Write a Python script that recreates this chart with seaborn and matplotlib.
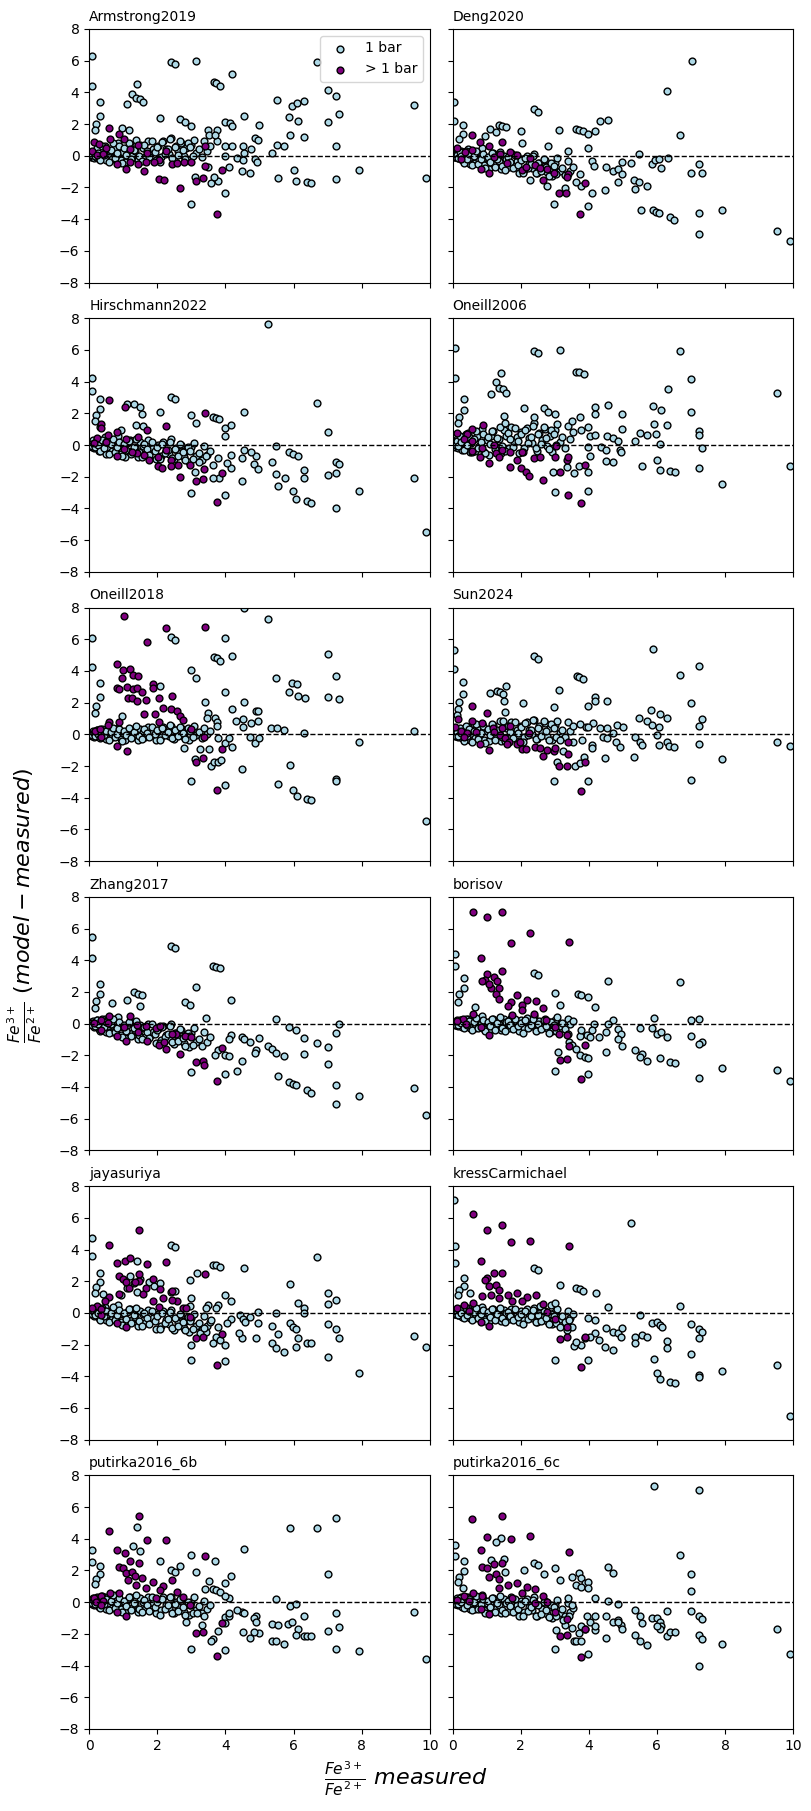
"""
Residual plots of Fe3+/Fe2+ (model - measured) vs measured, one panel per model.
"""

import pandas as pd
import matplotlib.pyplot as plt
import seaborn as sns

# x of the dense 1-bar cluster near the origin (same measured set in every panel)
X_CLUSTER = [0.02, 0.04, 0.06, 0.08, 0.10, 0.12, 0.15, 0.18, 0.20, 0.24, 0.28, 0.30, 0.35, 0.40, 0.45,
             0.50, 0.55, 0.60, 0.66, 0.72, 0.78, 0.85, 0.92, 1.00, 1.06, 1.12, 1.20, 1.27, 1.35, 1.42,
             1.50, 1.58, 1.65, 1.72, 1.80, 1.88, 1.95, 2.02, 2.10, 2.18, 2.25, 2.33, 2.40, 2.48, 2.55,
             2.62, 2.70, 2.78, 2.85, 2.92, 3.00, 3.08, 3.15, 3.22, 3.30, 3.38, 3.45, 3.55]
X_CLUSTER2 = [0.03, 0.07, 0.09, 0.13, 0.16, 0.22, 0.26, 0.33, 0.38, 0.43, 0.48, 0.58, 0.63, 0.69, 0.75,
              0.82, 0.88, 0.96, 1.03, 1.09, 1.16, 1.24, 1.31, 1.38, 1.46, 1.54, 1.62, 1.69, 1.77, 1.84,
              1.92, 2.00, 2.07, 2.14, 2.22, 2.30, 2.37, 2.44, 2.52, 2.60, 2.67, 2.75, 2.82, 2.90, 2.97, 3.05]

# ---------------- Armstrong2019 ----------------
ARMSTRONG_CLUSTER_Y = [0.05, -0.05, 0.15, -0.1, 0.0, 0.25, -0.15, 0.2, -0.05, 0.4, -0.2, 0.15, 0.35, -0.15, 0.6,
                       -0.3, 0.1, 0.3, -0.2, 0.5, 0.0, 0.8, -0.3, 0.25, -0.4, 0.5, 0.7, 0.0, 0.3, -0.3,
                       0.7, 0.5, -0.1, 0.9, 0.2, 0.4, -0.3, 0.6, -0.1, 0.9, 0.4, 0.1, 1.1, -0.2, 0.6,
                       0.3, 0.8, 0.0, 0.5, -0.3, 0.7, 1.0, 0.2, 0.4, -0.1, 0.9, 0.3, 0.6]
ARMSTRONG_CLUSTER2_Y = [0.07, 0.17, 0.02, 0.24, -0.03, 0.49, 0.19, -0.28, 0.63, 0.03, 0.46, -0.37, 0.36, 0.78, -0.17,
                        0.2, 0.63, -0.44, 0.46, 0.05, 0.78, -0.23, 0.38, 0.99, -0.02, -0.32, 0.65, 0.3, -0.11, 0.92,
                        0.21, 0.58, -0.37, 0.84, 0.13, 0.44, 1.04, -0.15, 0.58, 0.05, 0.96, 0.37, -0.22, 0.81, 0.58,
                        -0.01]
ARMSTRONG_1BAR = [(0.07, 6.29), (0.07, 4.37), (2.39, 5.91), (2.52, 5.76), (3.14, 5.95), (3.67, 4.64), (3.72, 4.56),
                  (3.85, 4.43), (4.2, 5.15), (1.41, 4.51), (1.27, 3.92), (1.36, 3.65), (1.48, 3.57), (1.59, 3.38),
                  (1.12, 3.25), (0.32, 3.38), (0.32, 2.53), (0.2, 2.03), (0.17, 1.6), (2.07, 2.36), (2.66, 2.3),
                  (2.82, 2.13), (2.99, 1.9), (0.96, 1.75), (1.17, 1.6), (3.49, 1.65), (3.76, 1.65), (3.52, 1.29),
                  (3.76, 0.93), (3.69, 1.29), (3.98, 2.13), (4.12, 2.09), (4.18, 1.9), (4.54, 2.53), (5.0, 1.96),
                  (5.5, 3.54), (5.87, 2.43), (5.96, 3.14), (6.09, 3.33), (6.31, 3.48), (6.13, 2.17), (5.9, 1.33),
                  (6.31, 1.2), (6.68, 5.89), (7.0, 4.13), (7.25, 3.8), (7.33, 2.66), (7.0, 2.1), (7.25, 0.59),
                  (4.86, 1.14), (4.96, 0.97), (4.52, 0.63), (4.75, 0.42), (4.54, 0.17), (4.0, 0.63), (4.19, 0.63),
                  (5.37, 0.17), (5.5, 0.7), (5.72, 0.63), (4.33, -0.17), (4.52, -0.3), (4.86, -0.19), (4.94, -0.4),
                  (3.98, -0.04), (4.1, -0.72), (4.49, -0.99), (4.73, -1.08), (5.54, -1.39), (6.0, -0.93),
                  (6.07, -1.58), (6.39, -1.65), (6.52, -1.71), (7.25, -1.46), (7.93, -0.87), (9.54, 3.23),
                  (9.9, -1.39), (3.98, -2.38), (2.99, -3.04), (3.57, -1.71), (3.79, -1.58), (3.66, -1.35),
                  (3.1, -1.35), (3.5, -0.72)]
ARMSTRONG_HP = [(3.76, -3.65), (2.67, -2.03), (2.05, -1.46), (2.19, -1.52), (3.13, -1.58), (3.35, -1.39),
                (3.9, -0.89), (3.39, -0.63), (3.41, 0.63), (2.26, 0.27), (2.04, -0.3), (2.42, -0.55), (2.58, -0.46),
                (2.78, -0.42), (2.99, -0.38), (1.71, 0.17), (1.67, -0.38), (1.44, -0.55), (1.6, -0.99), (1.09, -0.84),
                (0.82, -0.55), (0.58, 1.77), (0.88, 1.39), (1.03, 1.08), (1.19, 0.42), (1.44, 0.7), (0.61, 1.05),
                (0.15, 0.84), (0.29, 0.76), (0.49, 0.46), (0.08, 0.3), (0.22, 0.02), (0.41, 0.13), (1.9, -0.42),
                (1.19, -0.42)]

# ---------------- Deng2020 ----------------
DENG_CLUSTER_Y = [0.05, -0.05, 0.1, -0.1, 0.0, 0.2, -0.15, 0.1, -0.1, 0.3, -0.3, 0.05, 0.2, -0.3, 0.4,
                  -0.5, -0.1, 0.05, -0.45, 0.25, -0.3, 0.5, -0.6, -0.15, -0.85, 0.0, 0.2, -0.5, -0.35, -0.85,
                  0.0, -0.2, -0.7, 0.15, -0.55, -0.35, -1.1, -0.2, -0.9, 0.0, -0.55, -0.8, 0.1, -1.1, -0.45,
                  -0.75, -0.25, -1.0, -0.6, -1.3, -0.45, -0.15, -0.95, -0.8, -1.2, -0.35, -0.95, -0.7]
DENG_CLUSTER2_Y = [-0.04, 0.03, -0.1, 0.07, -0.17, 0.24, -0.02, -0.43, 0.3, -0.21, 0.13, -0.6, -0.01, 0.33, -0.49,
                   -0.21, 0.13, -0.79, -0.06, -0.42, 0.16, -0.71, -0.23, 0.25, -0.62, -0.89, -0.11, -0.42, -0.79, 0.04,
                   -0.58, -0.3, -1.12, -0.14, -0.76, -0.53, -0.04, -1.06, -0.48, -0.95, -0.22, -0.74, -1.26, -0.43,
                   -0.64, -1.16]
DENG_1BAR = [(0.05, 3.38), (0.05, 2.17), (0.31, 1.96), (0.31, 1.39), (0.2, 1.05), (2.4, 2.97), (2.51, 2.78),
             (1.37, 1.96), (1.45, 1.9), (1.58, 1.84), (1.1, 1.71), (1.27, 1.48), (2.0, 1.54), (0.96, 1.22),
             (2.04, 0.82), (3.12, 1.65), (3.62, 1.67), (3.7, 1.65), (3.82, 1.54), (3.98, 1.39), (4.19, 1.54),
             (4.33, 2.17), (4.55, 2.24), (3.98, 0.46), (3.4, 0.27), (2.81, 0.63), (2.97, -3.02), (3.98, -3.14),
             (4.1, -2.34), (4.48, -2.19), (3.76, -1.9), (3.62, -1.65), (2.78, -1.88), (3.29, -2.03), (3.74, -1.14),
             (4.1, -0.34), (4.15, -0.65), (4.5, -0.72), (4.72, -0.99), (4.86, -0.86), (4.96, -1.14), (4.86, -1.65),
             (4.98, -0.38), (5.23, -0.44), (5.34, -1.52), (5.36, -2.07), (5.48, 0.13), (5.48, -1.65), (5.54, -3.42),
             (5.71, -1.88), (5.85, -0.51), (5.94, -0.25), (6.07, -0.21), (6.12, -0.76), (5.87, -3.42), (5.97, -3.57),
             (6.06, -3.63), (6.3, 4.07), (6.32, -0.13), (6.38, -3.88), (6.51, -4.05), (6.67, 1.33), (7.02, 5.95),
             (7.0, -1.08), (7.24, -0.51), (7.33, -1.08), (7.24, -3.61), (7.24, -4.94), (7.9, -3.42), (9.53, -4.75),
             (9.9, -5.38), (2.27, -1.56)]
DENG_HP = [(0.58, 1.29), (0.12, 0.46), (0.8, 0.86), (1.08, 0.59), (1.44, 0.86), (0.83, -0.82), (1.08, -1.08),
           (1.68, 0.23), (1.88, 0.04), (1.21, -0.08), (1.6, -0.46), (2.03, -0.89), (2.17, -0.72), (2.42, -0.57),
           (2.56, -0.76), (2.76, -0.86), (2.97, -1.08), (2.66, -1.52), (3.39, -1.14), (3.37, -1.35), (3.13, -2.38),
           (3.34, -2.34), (3.75, -3.65), (3.89, -1.75), (0.36, 0.23), (0.56, 0.34), (0.26, -0.19), (2.27, -0.15),
           (1.39, 0.13)]

# ---------------- Hirschmann2022 ----------------
HIRSCHMANN_CLUSTER_Y = [0.05, -0.05, 0.2, -0.1, 0.0, 0.3, -0.2, 0.15, -0.1, 0.4, -0.35, 0.05, 0.25, -0.25, 0.5,
                        -0.55, -0.1, 0.1, -0.4, 0.3, -0.2, 0.6, -0.55, -0.05, -0.75, 0.15, 0.3, -0.4, -0.2, -0.75,
                        0.2, -0.05, -0.55, 0.3, -0.35, -0.2, -0.9, 0.0, -0.7, 0.2, -0.35, -0.55, 0.35, -0.9, -0.2,
                        -0.5, 0.0, -0.75, -0.35, -1.05, -0.15, 0.1, -0.7, -0.5, -0.95, -0.05, -0.6, -0.35]
HIRSCHMANN_CLUSTER2_Y = [-0.03, 0.04, -0.09, 0.08, -0.15, 0.27, 0.01, -0.4, 0.34, -0.16, 0.18, -0.54, 0.06, 0.4,
                         -0.41, -0.12, 0.22, -0.69, 0.05, -0.31, 0.28, -0.59, -0.1, 0.39, -0.47, -0.73, 0.06, -0.25,
                         -0.62, 0.22, -0.39, -0.1, -0.91, 0.08, -0.53, -0.3, 0.19, -0.82, -0.23, -0.69, 0.05, -0.46,
                         -0.97, -0.14, -0.35, -0.86]
HIRSCHMANN_1BAR = [(5.25, 7.64), (0.07, 4.22), (0.07, 3.38), (0.32, 2.89), (0.32, 2.26), (0.2, 1.88), (0.17, 1.52),
                   (0.32, 1.16), (1.12, 2.57), (1.32, 2.59), (1.48, 2.43), (1.56, 1.94), (1.37, 1.27), (1.59, 1.2),
                   (0.94, 0.95), (2.4, 3.02), (2.52, 2.89), (2.09, 2.07), (2.99, 1.88), (3.14, 1.37), (3.63, 1.79),
                   (3.73, 1.69), (3.81, 1.65), (3.98, 1.05), (3.98, 0.59), (4.17, 1.24), (4.54, 2.07), (6.69, 2.64),
                   (7.0, 0.8), (5.49, -0.06), (5.88, -0.42), (5.98, -0.57), (6.12, -0.68), (5.36, -1.05), (5.49, -1.84),
                   (5.75, -2.05), (6.3, -1.6), (6.3, -2.05), (7.0, -1.9), (7.24, -1.05), (7.33, -1.2), (7.24, -1.79),
                   (7.24, -3.95), (5.55, -2.59), (5.98, -2.91), (6.06, -3.38), (6.39, -3.54), (6.51, -3.63),
                   (7.91, -2.87), (9.53, -2.09), (9.89, -5.5), (2.99, -3.0), (3.98, -3.16), (4.48, -2.24),
                   (4.17, -1.48), (4.48, -0.84), (4.84, -1.2), (4.95, -1.54), (4.91, -0.68), (4.55, -0.32),
                   (4.17, -0.63), (3.77, -0.84), (3.81, -2.11), (3.63, -2.07), (3.1, -1.69), (3.43, -0.7),
                   (3.23, -1.05), (3.63, -1.27), (4.04, -1.12), (4.75, -0.42)]
HIRSCHMANN_HP = [(0.59, 2.85), (1.04, 2.38), (0.34, 1.33), (0.36, 1.08), (2.26, 1.2), (3.41, 2.0), (1.7, 0.95),
                 (1.44, 0.49), (1.09, 0.36), (0.83, 0.8), (0.56, 0.61), (0.24, 0.44), (0.13, 0.1), (0.48, 0.17),
                 (0.82, -0.7), (1.01, -0.27), (1.4, -0.53), (1.62, -0.65), (2.02, -0.74), (2.41, -0.95),
                 (2.03, -1.33), (2.15, -1.48), (2.41, -1.33), (2.6, -1.29), (2.96, -1.29), (2.66, -2.0), (3.14, -2.26),
                 (3.34, -2.17), (3.9, -1.79), (3.74, -3.6), (3.36, -1.54), (1.75, -0.95), (1.25, -0.42), (2.26, -0.32)]

# ---------------- Oneill2006 ----------------
ONEILL2006_CLUSTER_Y = [0.05, -0.05, 0.2, -0.1, 0.05, 0.35, -0.2, 0.25, -0.05, 0.5, -0.3, 0.15, 0.45, -0.2, 0.75,
                        -0.45, 0.1, 0.35, -0.35, 0.6, -0.05, 1.0, -0.45, 0.3, -0.6, 0.6, 0.9, -0.1, 0.35, -0.5,
                        0.95, 0.6, -0.2, 1.15, 0.2, 0.5, -0.5, 0.8, -0.2, 1.1, 0.45, 0.1, 1.4, -0.35, 0.75,
                        0.3, 1.0, -0.05, 0.6, -0.45, 0.95, 1.3, 0.2, 0.5, -0.2, 1.2, 0.35, 0.8]
ONEILL2006_CLUSTER2_Y = [0.06, 0.18, 0.01, 0.26, -0.06, 0.55, 0.21, -0.34, 0.72, 0.02, 0.52, -0.44, 0.4, 0.9, -0.21,
                         0.22, 0.72, -0.53, 0.53, 0.05, 0.9, -0.27, 0.44, 1.15, -0.03, -0.37, 0.76, 0.35, -0.12, 1.08,
                         0.25, 0.68, -0.43, 0.98, 0.15, 0.52, 1.23, -0.16, 0.69, 0.07, 1.13, 0.44, -0.25, 0.96, 0.69,
                         0.0]
ONEILL2006_1BAR = [(0.07, 6.12), (0.07, 4.26), (0.34, 2.89), (0.34, 2.22), (0.2, 1.75), (0.17, 1.37), (2.4, 5.93),
                   (2.52, 5.8), (3.14, 5.99), (3.63, 4.64), (3.71, 4.58), (3.85, 4.47), (6.68, 5.93), (7.0, 4.16),
                   (6.33, 3.52), (9.53, 3.27), (9.91, -1.35), (1.41, 4.54), (1.28, 3.97), (1.37, 3.59), (1.48, 3.52),
                   (1.57, 3.27), (1.12, 3.23), (2.09, 2.32), (2.69, 2.32), (2.8, 2.11), (3.0, 1.96), (2.4, 1.75),
                   (1.51, 1.84), (1.55, 1.41), (4.17, 2.38), (4.19, 1.96), (4.55, 2.53), (4.98, 1.96), (4.98, 1.01),
                   (5.88, 2.47), (6.12, 2.22), (6.3, 1.27), (7.0, 2.11), (7.24, 0.91), (7.24, 0.61), (7.31, -0.17),
                   (3.5, 1.52), (3.74, 1.75), (3.77, 0.95), (3.97, 1.12), (4.04, 0.59), (4.17, 0.61), (4.52, 0.57),
                   (4.71, 0.46), (4.87, 0.25), (5.36, 0.25), (5.9, 1.31), (5.72, 0.63), (5.96, 0.68), (6.08, 0.04),
                   (5.49, 0.74), (4.35, -0.15), (4.51, -0.32), (4.91, -0.32), (4.95, -0.42), (3.97, -0.11),
                   (4.04, -0.68), (4.49, -0.99), (4.71, -1.05), (5.55, -1.33), (5.99, -0.95), (6.08, -1.58),
                   (6.39, -1.62), (6.52, -1.73), (7.24, -1.48), (7.91, -2.49), (3.0, -2.97), (3.97, -2.87),
                   (3.57, -1.75), (3.7, -1.31), (3.97, -1.73), (3.36, -1.37), (2.96, -1.69)]
ONEILL2006_HP = [(0.58, 1.03), (0.89, 1.24), (0.43, 0.68), (0.13, 0.74), (0.34, 0.4), (0.58, 0.27), (1.21, 0.0),
                 (0.87, -0.17), (0.58, -0.38), (0.81, -0.78), (1.08, -1.12), (1.28, -0.53), (1.45, -0.32),
                 (1.68, -0.42), (1.37, -0.74), (1.68, -1.37), (2.05, -0.42), (1.88, -0.95), (2.4, -0.8), (2.56, -0.74),
                 (3.0, -0.74), (2.02, -1.48), (2.17, -1.71), (2.25, -1.96), (2.66, -2.22), (3.14, -1.69),
                 (3.36, -0.95), (3.9, -1.27), (3.4, -3.16), (3.77, -3.63), (3.4, -0.74), (3.03, -0.04)]

# ---------------- Oneill2018 ----------------
ONEILL2018_CLUSTER_Y = [0.05, -0.05, 0.1, -0.1, 0.0, 0.2, -0.15, 0.1, -0.05, 0.25, -0.2, 0.05, 0.2, -0.15, 0.3,
                        -0.3, 0.0, 0.15, -0.2, 0.3, -0.1, 0.4, -0.3, 0.1, -0.35, 0.2, 0.35, -0.15, 0.05, -0.35,
                        0.35, 0.15, -0.2, 0.45, 0.0, 0.15, -0.35, 0.3, -0.2, 0.45, 0.1, -0.1, 0.55, -0.3, 0.25,
                        0.0, 0.4, -0.2, 0.2, -0.35, 0.3, 0.5, -0.05, 0.15, -0.25, 0.4, 0.05, 0.2]
ONEILL2018_CLUSTER2_Y = [-0.02, 0.04, -0.06, 0.09, -0.09, 0.25, 0.05, -0.26, 0.34, -0.06, 0.22, -0.33, 0.15, 0.43,
                         -0.2, 0.04, 0.32, -0.39, 0.21, -0.07, 0.42, -0.26, 0.15, 0.55, -0.13, -0.32, 0.32, 0.08,
                         -0.19, 0.49, 0.02, 0.26, -0.38, 0.43, -0.05, 0.16, 0.56, -0.24, 0.25, -0.11, 0.49, 0.1,
                         -0.3, 0.39, 0.23, -0.17]
ONEILL2018_1BAR = [(0.07, 6.1), (0.07, 4.28), (0.31, 3.21), (0.32, 2.33), (0.21, 1.78), (0.18, 1.32), (4.55, 7.95),
                   (5.25, 7.25), (2.4, 6.14), (2.53, 5.97), (3.98, 6.1), (4.2, 4.93), (3.67, 4.86), (3.74, 4.82),
                   (3.85, 4.65), (7.0, 5.05), (7.25, 3.65), (7.0, 2.33), (7.33, 2.2), (5.49, 3.58), (5.96, 3.27),
                   (6.09, 3.17), (5.87, 2.64), (6.14, 2.39), (6.33, 2.29), (3.0, 4.05), (3.13, 3.58), (2.08, 3.08),
                   (3.98, 2.64), (3.41, 2.01), (4.18, 1.57), (4.55, 2.01), (3.49, 1.32), (3.47, 1.0), (3.69, 1.05),
                   (3.76, 0.75), (3.76, 0.52), (4.89, 1.47), (4.96, 1.47), (4.96, 0.84), (4.52, 0.96), (4.32, 0.84),
                   (4.75, 0.69), (4.52, 0.44), (0.95, 1.15), (5.33, 0.42), (5.5, 0.4), (5.72, 0.27), (6.31, 0.1),
                   (9.54, 0.21), (9.9, -5.45), (7.93, -0.5), (4.18, -0.82), (4.0, -0.52), (3.79, -0.25), (4.1, -0.25),
                   (4.73, -0.15), (4.88, -0.57), (4.99, -0.25), (3.52, -0.94), (3.25, -0.94), (2.79, -0.88),
                   (3.1, -1.57), (3.57, -2.01), (3.67, -1.72), (3.79, -1.72), (3.88, -1.61), (4.49, -2.18),
                   (5.89, -1.93), (3.0, -2.94), (3.98, -3.19), (5.55, -3.12), (5.99, -3.5), (6.09, -3.9),
                   (6.39, -4.07), (6.52, -4.13), (7.25, -2.81), (7.25, -2.94)]
ONEILL2018_HP = [(1.03, 7.44), (2.26, 6.69), (3.4, 6.79), (1.7, 5.85), (0.82, 4.42), (1.0, 4.09), (1.21, 4.15),
                 (1.29, 3.73), (1.44, 3.65), (0.97, 3.58), (0.83, 2.9), (0.88, 2.85), (1.1, 2.96), (1.29, 2.85),
                 (1.39, 2.93), (1.56, 2.7), (1.87, 3.17), (1.87, 2.9), (1.14, 2.29), (1.26, 2.3), (1.39, 2.12),
                 (1.67, 2.16), (2.05, 2.29), (2.43, 2.43), (1.62, 1.26), (1.94, 1.26), (2.17, 1.64), (2.39, 1.6),
                 (2.58, 1.47), (2.66, 1.17), (2.76, 0.9), (3.0, 0.31), (2.05, 0.78), (0.88, 0.78), (0.59, 0.78),
                 (0.54, 0.57), (0.17, 0.23), (0.31, 0.31), (0.36, -0.15), (0.82, -0.73), (1.1, -1.03), (3.37, -0.15),
                 (3.9, -0.94), (3.14, -1.76), (3.35, -1.51), (3.75, -3.52)]

# ---------------- Sun2024 ----------------
SUN_CLUSTER_Y = [0.05, -0.05, 0.15, -0.1, 0.0, 0.25, -0.15, 0.2, -0.05, 0.35, -0.25, 0.1, 0.3, -0.15, 0.45,
                 -0.35, 0.05, 0.25, -0.25, 0.4, -0.05, 0.65, -0.35, 0.2, -0.45, 0.4, 0.6, -0.1, 0.2, -0.4,
                 0.6, 0.4, -0.15, 0.75, 0.1, 0.3, -0.4, 0.5, -0.2, 0.75, 0.25, 0.0, 0.9, -0.3, 0.5,
                 0.15, 0.7, -0.1, 0.4, -0.35, 0.6, 0.85, 0.1, 0.3, -0.2, 0.75, 0.2, 0.5]
SUN_CLUSTER2_Y = [-0.03, 0.07, -0.08, 0.13, -0.13, 0.38, 0.09, -0.39, 0.52, -0.08, 0.35, -0.48, 0.24, 0.67, -0.28,
                  0.08, 0.51, -0.56, 0.34, -0.07, 0.66, -0.36, 0.25, 0.86, -0.15, -0.45, 0.52, 0.17, -0.24, 0.78,
                  0.07, 0.44, -0.51, 0.69, -0.02, 0.29, 0.9, -0.3, 0.43, -0.1, 0.81, 0.22, -0.38, 0.65, 0.42,
                  -0.17]
SUN_1BAR = [(0.05, 5.35), (0.05, 4.11), (0.31, 3.29), (0.31, 2.54), (0.2, 2.01), (0.17, 1.57), (0.12, 1.22),
            (2.4, 4.93), (2.51, 4.78), (5.89, 5.41), (7.23, 4.3), (6.67, 3.73), (7.0, 1.97), (7.33, 0.96), (7.24, 0.52),
            (7.24, -0.63), (7.0, -2.87), (3.64, 3.67), (3.72, 3.63), (3.84, 3.52), (3.12, 2.79), (4.17, 2.33),
            (4.18, 2.12), (4.54, 2.1), (3.98, 1.78), (2.97, 1.7), (2.07, 1.97), (1.1, 2.58), (1.29, 2.73),
            (1.39, 2.68), (1.49, 2.54), (1.58, 3.02), (1.5, 2.1), (1.53, 1.38), (1.49, 0.84), (5.82, 1.53),
            (6.1, 1.26), (6.3, 1.01), (5.48, 1.01), (5.71, 0.84), (5.85, 0.59), (6.07, 0.44), (5.99, -0.04),
            (3.74, 0.63), (3.93, 0.48), (4.13, 0.73), (4.32, 0.38), (4.52, 0.42), (4.72, 0.06), (4.84, 0.59),
            (4.99, 0.48), (4.42, -0.15), (4.52, -0.21), (5.35, -0.19), (5.5, -0.46), (5.55, -0.69), (6.31, -0.46),
            (6.36, -0.73), (6.5, -0.8), (6.06, -0.67), (4.81, -0.46), (4.91, -0.8), (4.08, -0.67), (4.1, -0.88),
            (3.97, 0.48), (5.33, -1.45), (4.47, -1.51), (7.9, -1.57), (9.53, -0.48), (9.9, -0.73), (2.98, -2.94),
            (3.98, -2.94), (3.07, -1.72), (3.59, -2.03), (3.74, -1.78), (3.86, -1.4), (3.79, -0.36), (3.54, -0.46),
            (3.15, -0.36), (3.25, -1.05)]
SUN_HP = [(0.58, 1.78), (1.02, 1.36), (0.15, 0.96), (0.58, 0.84), (0.87, 0.73), (1.7, 0.52), (1.44, 0.38),
          (1.19, 0.38), (2.25, 0.1), (0.07, 0.48), (0.26, 0.23), (0.41, 0.06), (0.7, 0.17), (0.34, -0.15),
          (0.8, -0.63), (1.08, -0.99), (1.21, 0.17), (1.39, -0.04), (1.54, -0.25), (1.66, -0.46), (1.88, -0.61),
          (1.98, -0.46), (2.05, -0.94), (2.17, -0.94), (2.42, -0.78), (2.56, -0.88), (2.76, -0.99), (2.98, -1.05),
          (2.66, -1.36), (3.4, -1.24), (3.4, -0.46), (3.13, -1.97), (3.35, -1.97), (3.89, -1.72), (3.76, -3.56),
          (3.0, -0.88), (1.59, -0.63)]

# ---------------- Zhang2017 ----------------
ZHANG_CLUSTER_Y = [0.05, -0.05, 0.1, -0.1, -0.05, 0.15, -0.2, 0.05, -0.15, 0.25, -0.35, 0.0, 0.15, -0.35, 0.3,
                   -0.55, -0.15, 0.0, -0.5, 0.15, -0.35, 0.4, -0.7, -0.2, -0.9, -0.1, 0.1, -0.6, -0.4, -0.95,
                   -0.1, -0.3, -0.85, 0.0, -0.7, -0.5, -1.2, -0.35, -1.05, -0.15, -0.7, -0.95, -0.05, -1.3, -0.6,
                   -0.9, -0.4, -1.2, -0.75, -1.45, -0.6, -0.3, -1.15, -0.95, -1.4, -0.5, -1.15, -0.85]
ZHANG_CLUSTER2_Y = [-0.04, 0.03, -0.11, 0.06, -0.18, 0.23, -0.03, -0.45, 0.29, -0.23, 0.11, -0.62, -0.04, 0.29, -0.53,
                    -0.25, 0.09, -0.84, -0.11, -0.48, 0.1, -0.77, -0.29, 0.19, -0.69, -0.96, -0.19, -0.51, -0.88,
                    -0.05, -0.68, -0.4, -1.22, -0.24, -0.87, -0.64, -0.16, -1.18, -0.61, -1.08, -0.35, -0.88, -1.4,
                    -0.57, -0.79, -1.32]
ZHANG_1BAR = [(0.07, 5.44), (0.07, 4.11), (0.32, 2.53), (0.32, 1.84), (0.2, 1.41), (0.17, 1.01), (2.4, 4.89),
              (2.52, 4.75), (3.63, 3.63), (3.73, 3.59), (3.84, 3.48), (3.14, 2.34), (4.17, 1.52), (1.32, 2.0),
              (1.44, 1.9), (1.56, 1.79), (1.12, 1.48), (1.48, 1.1), (0.67, 1.27), (2.8, 1.37), (2.96, 1.2),
              (3.43, 0.36), (5.49, 0.27), (7.33, -0.04), (7.24, -0.57), (5.88, -0.21), (6.06, -0.38), (6.3, -0.89),
              (6.69, -1.2), (7.0, -1.48), (7.0, -2.57), (7.24, -3.86), (7.24, -5.06), (7.91, -4.54), (9.53, -4.05),
              (9.89, -5.76), (5.55, -3.33), (5.88, -3.69), (5.98, -3.8), (6.06, -3.86), (6.39, -4.22), (6.51, -4.35),
              (5.72, -2.07), (6.3, -1.9), (5.25, -1.41), (5.36, -1.62), (5.49, -1.86), (4.48, -0.84), (4.55, -0.95),
              (4.71, -1.16), (4.91, -1.69), (4.88, -1.86), (4.98, -0.89), (4.48, -2.36), (4.35, -2.97), (3.98, -3.21),
              (3.98, -1.96), (4.1, -2.05), (2.99, -3.04), (3.77, -1.69), (3.7, -1.96), (4.17, -0.74), (4.1, -0.95)]
ZHANG_HP = [(0.59, 0.46), (1.21, 0.49), (0.35, 0.21), (0.13, 0.04), (0.54, 0.04), (0.82, -0.8), (1.09, -1.1),
            (0.36, -0.38), (1.01, -0.21), (1.41, -0.11), (1.68, -0.17), (1.43, -0.53), (1.95, -0.25), (2.09, -0.17),
            (1.71, -1.1), (2.05, -1.33), (2.25, -1.58), (2.56, -0.68), (2.8, -0.8), (3.0, -0.84), (2.66, -1.9),
            (3.14, -2.43), (3.34, -2.36), (3.36, -2.64), (3.9, -1.56), (3.74, -3.65), (2.42, -0.63), (2.2, -1.16)]

# ---------------- borisov ----------------
BORISOV_CLUSTER_Y = [0.05, -0.05, 0.1, -0.1, 0.0, 0.2, -0.15, 0.1, -0.05, 0.25, -0.2, 0.05, 0.2, -0.15, 0.3,
                     -0.3, 0.0, 0.15, -0.25, 0.3, -0.1, 0.45, -0.35, 0.05, -0.4, 0.15, 0.3, -0.2, 0.0, -0.4,
                     0.3, 0.1, -0.25, 0.35, -0.1, 0.05, -0.45, 0.2, -0.3, 0.35, 0.0, -0.15, 0.45, -0.4, 0.15,
                     -0.05, 0.3, -0.3, 0.1, -0.45, 0.2, 0.4, -0.15, 0.05, -0.35, 0.3, -0.05, 0.15]
BORISOV_CLUSTER2_Y = [-0.02, 0.04, -0.06, 0.08, -0.11, 0.23, 0.03, -0.3, 0.3, -0.1, 0.18, -0.39, 0.09, 0.37, -0.28,
                      -0.04, 0.24, -0.49, 0.11, -0.17, 0.3, -0.38, 0.01, 0.41, -0.27, -0.48, 0.16, -0.08, -0.37, 0.31,
                      -0.18, 0.06, -0.58, 0.21, -0.27, -0.08, 0.32, -0.48, -0.01, -0.37, 0.23, -0.18, -0.58, 0.09,
                      -0.07, -0.47]
BORISOV_1BAR = [(0.07, 4.39), (0.07, 3.63), (0.34, 2.91), (0.34, 2.22), (0.2, 1.86), (0.17, 1.37), (0.67, 1.05),
                (2.4, 3.21), (2.52, 3.06), (4.55, 2.68), (6.68, 2.6), (7.0, 0.25), (5.9, 0.38), (3.0, 1.96),
                (3.16, 1.16), (3.67, 1.9), (3.77, 1.79), (3.97, 1.69), (4.17, 1.05), (4.71, 0.21), (4.55, 0.0),
                (4.15, 0.0), (4.1, -0.42), (3.94, -0.74), (4.3, -0.84), (4.51, -0.53), (4.87, -0.32), (4.95, -0.63),
                (4.85, -0.95), (4.98, -1.43), (4.51, -1.77), (5.36, -1.69), (5.49, -0.25), (5.55, -1.9), (5.49, -2.11),
                (5.72, -2.38), (5.86, -0.25), (5.99, -0.63), (6.12, -0.53), (6.3, -0.84), (6.08, -2.17), (6.39, -2.43),
                (6.52, -2.47), (7.0, -0.78), (7.24, 0.32), (7.31, -1.16), (7.24, -1.27), (7.24, -3.42), (7.91, -2.78),
                (9.53, -2.91), (9.91, -3.65), (3.0, -3.02), (3.97, -3.21), (3.1, -1.79), (3.43, -1.16), (3.5, -1.37),
                (3.63, -1.58), (3.74, -2.0), (3.88, -2.11), (3.97, -2.17), (3.74, -0.8), (3.4, -0.68), (3.77, -0.42),
                (4.04, -0.84)]
BORISOV_HP = [(0.61, 7.03), (1.02, 6.71), (1.44, 7.03), (2.26, 5.7), (1.71, 5.06), (3.41, 5.13), (0.83, 4.11),
              (1.01, 3.16), (1.21, 2.95), (0.94, 2.74), (1.31, 2.7), (0.87, 2.7), (1.44, 3.31), (1.14, 2.26),
              (1.37, 2.22), (1.08, 2.47), (1.28, 1.9), (1.37, 1.58), (1.88, 1.79), (1.71, 1.37), (1.62, 1.1),
              (2.18, 1.48), (2.45, 1.41), (2.05, 1.2), (2.05, 0.84), (2.66, 0.99), (2.4, 0.59), (2.73, 0.25),
              (3.0, -0.21), (1.75, 0.57), (0.61, 0.59), (0.31, 0.32), (0.13, 0.15), (0.4, 0.0), (0.83, -0.21),
              (1.08, -0.74), (3.36, -0.74), (3.41, -1.43), (3.9, -1.37), (3.16, -2.28), (3.36, -2.22), (3.77, -3.48),
              (3.12, -0.63)]

# ---------------- jayasuriya ----------------
JAYASURIYA_CLUSTER_Y = [0.05, -0.05, 0.1, -0.1, 0.0, 0.2, -0.2, 0.1, -0.1, 0.3, -0.3, 0.05, 0.2, -0.3, 0.35,
                        -0.45, -0.05, 0.1, -0.4, 0.25, -0.25, 0.5, -0.55, -0.1, -0.75, 0.05, 0.25, -0.45, -0.25, -0.8,
                        0.1, -0.1, -0.65, 0.2, -0.45, -0.3, -1.0, -0.1, -0.85, 0.1, -0.45, -0.7, 0.2, -1.05, -0.35,
                        -0.65, -0.15, -0.95, -0.5, -1.2, -0.35, -0.05, -0.85, -0.65, -1.1, -0.2, -0.8, -0.55]
JAYASURIYA_CLUSTER2_Y = [-0.03, 0.04, -0.1, 0.07, -0.16, 0.26, 0.0, -0.42, 0.32, -0.19, 0.15, -0.57, 0.02, 0.36,
                         -0.45, -0.16, 0.17, -0.74, -0.01, -0.37, 0.22, -0.65, -0.16, 0.32, -0.54, -0.81, -0.02,
                         -0.34, -0.7, 0.13, -0.48, -0.2, -1.01, -0.03, -0.64, -0.41, 0.08, -0.94, -0.35, -0.82,
                         -0.08, -0.6, -1.11, -0.28, -0.49, -1.01]
JAYASURIYA_1BAR = [(0.07, 4.73), (0.07, 3.57), (0.32, 2.51), (0.32, 1.94), (0.2, 1.62), (0.17, 1.24), (0.4, 1.2),
                   (2.4, 4.3), (2.52, 4.14), (3.63, 3.04), (3.73, 3.0), (3.84, 2.89), (4.54, 2.83), (6.69, 3.52),
                   (5.9, 1.81), (7.0, 1.24), (7.0, 0.55), (7.24, 0.82), (6.12, 0.61), (6.3, 0.3), (6.3, -0.02),
                   (5.49, -0.02), (1.41, 3.25), (1.21, 2.3), (1.48, 2.13), (1.32, 1.88), (1.12, 1.56), (1.4, 1.29),
                   (0.94, 1.14), (1.75, 1.98), (1.91, 1.71), (2.09, 1.88), (2.4, 1.35), (2.52, 1.39), (2.96, 2.09),
                   (3.0, 0.93), (3.16, 2.51), (2.96, 0.44), (3.5, 0.51), (3.43, 0.3), (3.77, 0.51), (3.73, 0.3),
                   (3.98, 1.14), (4.17, 0.78), (4.44, -0.13), (4.52, -0.4), (4.71, -0.27), (4.95, -0.65), (4.95, 0.08),
                   (4.58, -0.55), (4.91, -1.6), (4.48, -1.56), (5.36, -0.82), (5.55, -1.33), (5.36, -1.92),
                   (5.49, -2.24), (5.72, -2.49), (5.9, -0.65), (5.98, -0.86), (6.06, -1.03), (6.12, -1.56),
                   (6.06, -2.13), (6.39, -1.88), (6.51, -1.88), (4.41, -1.24), (4.17, -0.4), (7.0, -0.7),
                   (7.24, -1.01), (7.33, -1.6), (7.0, -2.76), (7.91, -3.78), (9.53, -1.46), (9.89, -2.17),
                   (2.99, -2.97), (3.98, -3.04), (2.99, -2.03), (3.43, -1.18), (3.26, -1.29), (3.73, -1.54),
                   (3.63, -1.92), (3.84, -1.71), (3.98, -2.03), (3.77, -0.86), (4.04, -0.65), (3.57, -0.44),
                   (3.36, -0.97)]
JAYASURIYA_HP = [(1.45, 5.21), (0.59, 4.3), (2.26, 3.19), (0.82, 3.14), (1.04, 3.29), (1.21, 3.46), (1.71, 3.1),
                 (3.41, 2.45), (0.87, 2.3), (0.98, 2.13), (1.45, 2.45), (1.45, 2.03), (1.35, 1.92), (1.08, 1.98),
                 (1.16, 1.56), (1.88, 2.13), (1.68, 1.56), (2.07, 1.5), (2.44, 1.39), (1.59, 1.2), (1.88, 0.78),
                 (2.18, 0.93), (2.59, 0.76), (0.58, 1.03), (0.87, 1.18), (0.47, 0.72), (0.23, 0.44), (0.09, 0.3),
                 (0.34, 0.23), (2.05, 0.4), (2.76, 0.34), (2.42, 0.82), (0.82, -0.65), (1.09, -0.91), (0.34, -0.13),
                 (2.96, -0.23), (3.14, -1.6), (3.34, -1.5), (3.9, -1.33), (3.74, -3.29), (2.83, 0.3)]

# ---------------- kressCarmichael ----------------
KRESS_CLUSTER_Y = [0.05, -0.05, 0.1, -0.1, 0.0, 0.2, -0.15, 0.1, -0.1, 0.25, -0.25, 0.05, 0.15, -0.2, 0.3,
                   -0.35, -0.05, 0.1, -0.3, 0.25, -0.15, 0.4, -0.4, 0.0, -0.5, 0.1, 0.25, -0.3, -0.1, -0.5,
                   0.2, 0.0, -0.4, 0.25, -0.2, -0.05, -0.6, 0.1, -0.45, 0.25, -0.1, -0.3, 0.3, -0.6, 0.0,
                   -0.25, 0.15, -0.5, -0.1, -0.7, 0.05, 0.25, -0.4, -0.2, -0.6, 0.1, -0.35, -0.1]
KRESS_CLUSTER2_Y = [-0.02, 0.04, -0.07, 0.07, -0.12, 0.22, 0.01, -0.31, 0.28, -0.12, 0.15, -0.42, 0.06, 0.33, -0.32,
                    -0.08, 0.19, -0.54, 0.06, -0.23, 0.24, -0.44, -0.05, 0.34, -0.35, -0.55, 0.08, -0.17, -0.46, 0.22,
                    -0.27, -0.04, -0.69, 0.11, -0.38, -0.19, 0.2, -0.6, -0.13, -0.5, 0.09, -0.32, -0.72, -0.05,
                    -0.22, -0.63]
KRESS_1BAR = [(0.04, 7.11), (0.07, 4.24), (0.07, 3.14), (0.34, 2.19), (0.34, 1.67), (0.2, 1.46), (0.17, 1.14),
              (0.5, 1.24), (5.25, 5.68), (2.4, 2.83), (2.52, 2.72), (3.14, 1.77), (3.63, 1.56), (3.74, 1.5),
              (3.84, 1.39), (4.2, 1.24), (4.55, 0.36), (6.67, 0.46), (2.89, 0.51), (3.0, 0.61), (2.56, 0.44),
              (4.17, -0.44), (3.97, -0.34), (4.51, -0.97), (4.71, -1.18), (4.87, -1.29), (4.98, -0.93), (4.95, -1.5),
              (5.49, -0.13), (5.36, -1.54), (5.36, -1.92), (5.55, -1.39), (5.72, -1.5), (5.86, -0.61), (5.99, -0.55),
              (6.08, -0.76), (6.16, -0.91), (6.3, -1.75), (6.3, -2.19), (7.0, -0.72), (7.24, -1.03), (7.31, -1.2),
              (7.24, -1.56), (7.0, -2.62), (5.9, -2.93), (5.99, -3.82), (6.08, -4.14), (6.39, -4.35), (6.52, -4.45),
              (7.24, -3.92), (7.24, -4.07), (7.91, -3.67), (9.53, -3.29), (9.91, -6.52), (4.48, -2.17),
              (4.71, -2.34), (4.31, -1.71), (4.17, -1.29), (4.04, -1.5), (3.77, -2.03), (3.57, -2.09), (3.63, -1.81),
              (3.9, -1.6), (3.0, -2.97), (3.97, -2.97), (3.5, -0.86), (3.36, -1.08), (3.16, -0.86), (3.43, -0.44)]
KRESS_HP = [(0.61, 6.27), (1.44, 5.57), (1.02, 5.25), (1.71, 4.45), (2.26, 4.56), (3.41, 4.24), (0.83, 3.25),
            (1.01, 2.19), (1.21, 2.51), (1.44, 2.51), (0.94, 2.09), (1.08, 1.71), (1.28, 1.77), (1.37, 1.46),
            (1.14, 1.14), (1.37, 0.93), (1.62, 1.14), (1.88, 1.24), (2.18, 1.03), (2.45, 1.14), (2.05, 0.78),
            (2.66, 0.57), (1.75, 0.76), (0.61, 0.65), (0.87, 1.08), (0.34, 0.51), (0.13, 0.3), (0.47, 0.13),
            (0.83, -0.59), (1.08, -0.82), (3.0, -0.4), (3.36, -0.91), (3.16, -1.67), (3.36, -1.5), (3.9, -1.54),
            (3.77, -3.44), (2.76, 0.08)]

# ---------------- putirka2016_6b ----------------
PUTIRKA6B_CLUSTER_Y = [0.05, -0.05, 0.15, -0.1, 0.0, 0.25, -0.2, 0.1, -0.1, 0.3, -0.3, 0.05, 0.2, -0.25, 0.35,
                       -0.4, -0.05, 0.15, -0.35, 0.3, -0.2, 0.5, -0.45, 0.0, -0.6, 0.15, 0.3, -0.35, -0.1, -0.6,
                       0.25, 0.0, -0.45, 0.35, -0.25, -0.05, -0.7, 0.15, -0.5, 0.3, -0.15, -0.35, 0.35, -0.7, 0.0,
                       -0.3, 0.2, -0.6, -0.15, -0.8, 0.0, 0.3, -0.5, -0.25, -0.7, 0.1, -0.45, -0.15]
PUTIRKA6B_CLUSTER2_Y = [-0.03, 0.04, -0.08, 0.09, -0.14, 0.28, 0.02, -0.38, 0.36, -0.14, 0.2, -0.51, 0.09, 0.43,
                        -0.38, -0.08, 0.26, -0.65, 0.1, -0.26, 0.33, -0.52, -0.03, 0.46, -0.4, -0.65, 0.14, -0.17,
                        -0.53, 0.32, -0.29, 0.0, -0.81, 0.19, -0.42, -0.18, 0.31, -0.69, -0.1, -0.56, 0.18, -0.33,
                        -0.83, 0.01, -0.2, -0.71]
PUTIRKA6B_1BAR = [(0.07, 3.3), (0.07, 2.54), (0.32, 2.29), (0.32, 1.76), (0.2, 1.45), (0.17, 1.13), (1.41, 4.73),
                  (1.28, 3.55), (1.48, 3.21), (2.09, 2.61), (2.4, 2.04), (2.52, 1.91), (2.66, 2.31), (2.99, 2.98),
                  (3.14, 1.91), (3.7, 2.61), (4.54, 3.34), (3.53, 1.34), (3.41, 0.84), (3.63, 0.84), (3.73, 0.78),
                  (3.84, 0.67), (3.98, 1.2), (4.17, 1.66), (4.1, 0.25), (3.98, 0.4), (5.9, 4.66), (6.69, 4.66),
                  (7.24, 5.29), (7.0, 1.79), (5.49, 0.21), (5.9, -0.21), (6.06, -0.11), (6.3, -0.84), (7.24, -0.69),
                  (7.33, -1.58), (7.0, -1.79), (7.24, -2.96), (7.91, -3.09), (9.53, -0.63), (9.89, -3.59),
                  (5.36, -1.37), (5.55, -1.43), (5.85, -1.37), (5.95, -1.28), (6.12, -1.68), (6.06, -2.06),
                  (6.3, -2.12), (6.39, -2.12), (6.51, -2.12), (5.36, -2.42), (5.49, -2.48), (5.72, -2.65),
                  (4.48, -0.59), (4.55, -0.69), (4.91, -0.86), (4.84, -1.01), (4.91, -1.22), (4.98, -1.95),
                  (4.84, -1.89), (4.71, -2.27), (4.51, -1.85), (4.35, -0.48), (3.98, -0.95), (3.98, -1.32),
                  (4.1, -0.9), (4.1, -0.69), (2.99, -2.94), (3.98, -3.0), (3.63, -2.33), (3.57, -2.44),
                  (3.77, -1.79), (3.3, -1.43), (3.16, -0.69), (3.36, -0.9), (2.83, -1.22)]
PUTIRKA6B_HP = [(1.45, 5.44), (0.59, 4.5), (1.71, 3.93), (2.26, 3.93), (3.41, 2.92), (0.82, 3.3), (1.04, 3.09),
                (0.87, 2.25), (0.98, 2.16), (1.21, 2.63), (1.45, 2.5), (1.08, 1.83), (1.25, 1.93), (1.35, 1.66),
                (1.55, 1.51), (1.14, 1.41), (1.37, 1.09), (1.88, 1.3), (1.68, 0.88), (2.42, 1.37), (2.18, 1.05),
                (2.09, 0.78), (2.59, 0.67), (1.95, 0.29), (2.76, 0.32), (2.96, -0.17), (0.87, 0.61), (0.61, 0.57),
                (0.34, 0.4), (0.13, 0.25), (0.4, 0.1), (0.2, 0.04), (0.82, -0.65), (1.09, -0.9), (0.34, -0.17),
                (3.14, -1.95), (3.34, -1.89), (3.9, -1.32), (3.74, -3.38)]

# ---------------- putirka2016_6c ----------------
PUTIRKA6C_CLUSTER_Y = [0.05, -0.05, 0.15, -0.1, 0.0, 0.25, -0.2, 0.1, -0.1, 0.3, -0.3, 0.05, 0.2, -0.25, 0.35,
                       -0.45, -0.05, 0.1, -0.4, 0.25, -0.25, 0.45, -0.5, -0.05, -0.7, 0.1, 0.25, -0.4, -0.15, -0.7,
                       0.2, -0.05, -0.55, 0.3, -0.3, -0.15, -0.85, 0.05, -0.6, 0.2, -0.3, -0.5, 0.3, -0.85, -0.15,
                       -0.45, 0.05, -0.75, -0.3, -1.0, -0.15, 0.15, -0.7, -0.45, -0.9, -0.05, -0.65, -0.35]
PUTIRKA6C_CLUSTER2_Y = [-0.02, 0.05, -0.1, 0.09, -0.14, 0.25, 0.03, -0.38, 0.31, -0.18, 0.2, -0.5, 0.04, 0.42, -0.44,
                        -0.1, 0.2, -0.66, 0.08, -0.33, 0.25, -0.62, -0.08, 0.36, -0.5, -0.7, 0.09, -0.27, -0.6, 0.2,
                        -0.42, -0.12, -0.88, 0.1, -0.55, -0.28, 0.16, -0.85, -0.2, -0.72, 0.02, -0.48, -0.95, -0.17,
                        -0.32, -0.9]
PUTIRKA6C_1BAR = [(0.07, 3.61), (0.07, 2.92), (0.34, 2.61), (0.34, 1.97), (0.2, 1.62), (0.17, 1.3), (0.31, 0.88),
                  (5.9, 7.33), (7.24, 7.08), (6.67, 2.98), (7.0, 1.79), (7.0, 0.71), (4.55, 2.25), (4.71, 1.83),
                  (4.55, 0.1), (4.87, -0.11), (1.41, 4.03), (1.28, 3.78), (1.12, 2.67), (1.51, 2.71), (1.55, 1.93),
                  (2.09, 2.04), (2.4, 2.5), (2.52, 2.35), (2.69, 1.79), (3.0, 2.14), (3.14, 1.41), (3.7, 1.83),
                  (3.77, 1.51), (3.9, 1.2), (3.97, 1.3), (4.17, 0.29), (3.5, 1.58), (3.63, 1.09), (3.77, 0.99),
                  (3.97, 0.88), (3.39, 0.25), (3.5, -0.17), (5.36, -0.48), (5.49, -0.84), (5.55, -1.32),
                  (5.86, -0.97), (5.99, -0.97), (6.08, -1.22), (6.12, -1.53), (6.3, -0.55), (6.08, -1.7),
                  (5.99, -1.53), (6.3, -2.16), (6.39, -1.91), (6.52, -1.85), (5.36, -2.06), (5.49, -2.44),
                  (5.72, -2.69), (7.0, -0.55), (7.24, -0.84), (7.31, -1.05), (7.24, -2.06), (7.33, -2.33),
                  (7.24, -4.01), (7.91, -2.65), (9.53, -1.7), (9.91, -3.26), (4.51, -0.9), (4.71, -1.22),
                  (4.87, -1.11), (4.95, -1.43), (4.98, -1.7), (4.85, -1.22), (4.51, -2.27), (4.17, -1.74),
                  (4.04, -1.22), (4.17, -1.53), (4.17, -0.9), (3.94, -0.9), (3.0, -2.96), (3.97, -3.26),
                  (3.57, -2.48), (3.63, -2.48), (3.77, -2.44), (3.7, -1.95), (3.9, -1.7), (3.77, -1.49),
                  (3.3, -1.43), (3.5, -1.6), (3.03, -1.74), (3.41, -0.86), (3.23, -1.11)]
PUTIRKA6C_HP = [(0.58, 5.23), (1.44, 5.44), (1.02, 4.14), (1.71, 3.99), (2.26, 4.18), (3.41, 3.19), (0.83, 3.3),
                (0.87, 2.21), (1.01, 2.14), (1.21, 2.39), (1.44, 2.46), (1.08, 1.62), (1.28, 1.76), (1.37, 1.45),
                (1.37, 0.88), (1.62, 1.09), (1.88, 1.2), (2.18, 0.99), (2.42, 0.84), (2.05, 0.57), (2.66, 0.36),
                (1.75, 0.29), (0.61, 0.61), (0.87, 0.4), (0.34, 0.36), (0.13, 0.15), (0.47, 0.08), (0.83, -0.44),
                (1.08, -0.76), (3.0, -0.65), (3.16, -2.12), (3.36, -2.06), (3.9, -1.7), (3.77, -3.47), (3.36, -1.05),
                (2.76, 0.0), (2.42, -0.06)]

PANELS = [
    ("Armstrong2019", ARMSTRONG_CLUSTER_Y, ARMSTRONG_CLUSTER2_Y, ARMSTRONG_1BAR, ARMSTRONG_HP),
    ("Deng2020", DENG_CLUSTER_Y, DENG_CLUSTER2_Y, DENG_1BAR, DENG_HP),
    ("Hirschmann2022", HIRSCHMANN_CLUSTER_Y, HIRSCHMANN_CLUSTER2_Y, HIRSCHMANN_1BAR, HIRSCHMANN_HP),
    ("Oneill2006", ONEILL2006_CLUSTER_Y, ONEILL2006_CLUSTER2_Y, ONEILL2006_1BAR, ONEILL2006_HP),
    ("Oneill2018", ONEILL2018_CLUSTER_Y, ONEILL2018_CLUSTER2_Y, ONEILL2018_1BAR, ONEILL2018_HP),
    ("Sun2024", SUN_CLUSTER_Y, SUN_CLUSTER2_Y, SUN_1BAR, SUN_HP),
    ("Zhang2017", ZHANG_CLUSTER_Y, ZHANG_CLUSTER2_Y, ZHANG_1BAR, ZHANG_HP),
    ("borisov", BORISOV_CLUSTER_Y, BORISOV_CLUSTER2_Y, BORISOV_1BAR, BORISOV_HP),
    ("jayasuriya", JAYASURIYA_CLUSTER_Y, JAYASURIYA_CLUSTER2_Y, JAYASURIYA_1BAR, JAYASURIYA_HP),
    ("kressCarmichael", KRESS_CLUSTER_Y, KRESS_CLUSTER2_Y, KRESS_1BAR, KRESS_HP),
    ("putirka2016_6b", PUTIRKA6B_CLUSTER_Y, PUTIRKA6B_CLUSTER2_Y, PUTIRKA6B_1BAR, PUTIRKA6B_HP),
    ("putirka2016_6c", PUTIRKA6C_CLUSTER_Y, PUTIRKA6C_CLUSTER2_Y, PUTIRKA6C_1BAR, PUTIRKA6C_HP),
]

MARKER_SIZE = 24


def panel_frames(cluster_y, cluster2_y, one_bar, high_p):
    low = pd.concat([
        pd.DataFrame({"measured": X_CLUSTER, "resid": cluster_y}),
        pd.DataFrame({"measured": X_CLUSTER2, "resid": cluster2_y}),
        pd.DataFrame(one_bar, columns=["measured", "resid"]),
    ], ignore_index=True)
    high = pd.DataFrame(high_p, columns=["measured", "resid"])
    return low, high


def main():
    fig, axes = plt.subplots(6, 2, figsize=(8.11, 18.11), dpi=100, sharex=True, sharey=True)
    fig.subplots_adjust(left=0.110, right=0.978, top=0.984, bottom=0.0453, wspace=0.067, hspace=0.141)

    for ax, (name, cluster_y, cluster2_y, one_bar, high_p) in zip(axes.flat, PANELS):
        low, high = panel_frames(cluster_y, cluster2_y, one_bar, high_p)
        sns.scatterplot(data=low, x="measured", y="resid", ax=ax, color="lightblue",
                        edgecolor="black", linewidth=1, s=MARKER_SIZE, label="1 bar")
        sns.scatterplot(data=high, x="measured", y="resid", ax=ax, color="purple",
                        edgecolor="black", linewidth=1, s=MARKER_SIZE, label="> 1 bar")
        ax.axhline(0, color="black", linestyle="--", linewidth=1)
        ax.set_title(name, loc="left", fontsize=10)
        ax.set_xlabel("")
        ax.set_ylabel("")
        if ax is not axes.flat[0]:
            ax.get_legend().remove()

    axes[0, 0].legend(loc="upper right")
    axes[0, 0].set_xlim(0, 10)
    axes[0, 0].set_ylim(-8, 8)
    axes[0, 0].set_xticks(range(0, 11, 2))
    axes[0, 0].set_yticks(range(-8, 9, 2))

    fig.text(0.03, 0.5, r"$\frac{Fe^{3+}}{Fe^{2+}}$ $(model - measured)$",
             rotation=90, ha="center", va="center", fontsize=16)
    fig.text(0.5, 0.0177, r"$\frac{Fe^{3+}}{Fe^{2+}}$ $measured$",
             ha="center", va="center", fontsize=16)

    fig.savefig("out.png", dpi=100)
    plt.close(fig)


if __name__ == "__main__":
    main()
